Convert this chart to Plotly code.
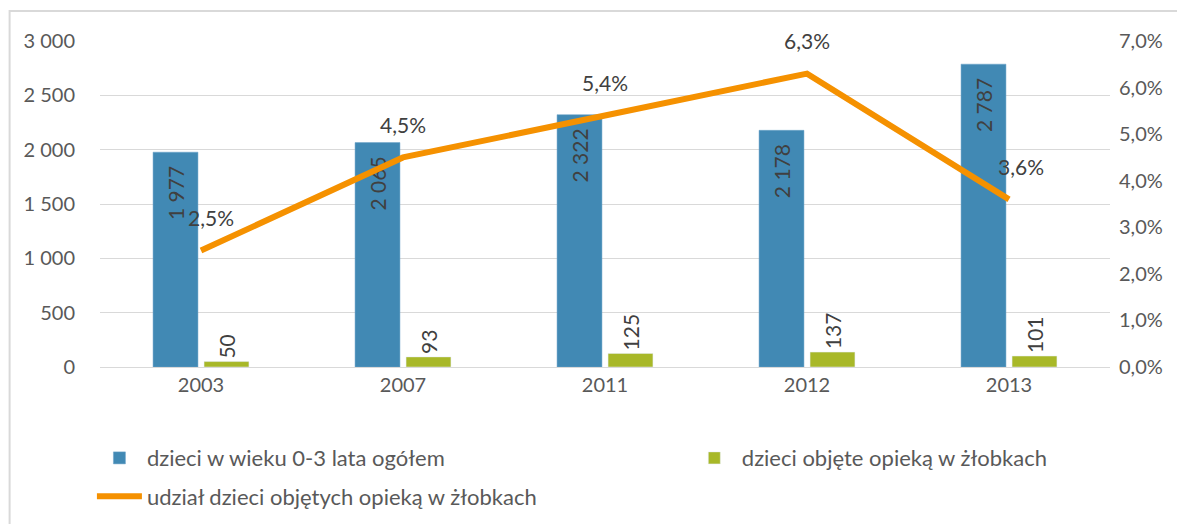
import plotly.graph_objects as go

years = ["2003", "2007", "2011", "2012", "2013"]
dzieci_ogolem = [1977, 2065, 2322, 2178, 2787]
dzieci_zlobki = [50, 93, 125, 137, 101]
udzial = [0.025, 0.045, 0.054, 0.063, 0.036]

name_ogolem = "dzieci w wieku 0-3 lata ogółem"
name_zlobki = "dzieci objęte opieką w żłobkach"
name_udzial = "udział dzieci objętych opieką w żłobkach"

FONT = "Lato"
GRAY = "#595959"
LABEL = "#404040"
NBSP = "\u00a0"


def fmt_int(v):
    return f"{v:,}".replace(",", " ")


def fmt_pct(v):
    return f"{v * 100:.1f}%".replace(".", ",")


fig = go.Figure()
fig.add_trace(go.Bar(
    x=years, y=dzieci_ogolem, name=name_ogolem, legend="legend",
    marker=dict(color="#4189B4", line=dict(color="#6aa3c8", width=0.5)),
    # trailing nbsp pushes the label down from the bar top
    text=[fmt_int(v) + NBSP * 2 for v in dzieci_ogolem],
    textposition="inside", insidetextanchor="end", textangle=-90,
    insidetextfont=dict(family=FONT, size=21, color=LABEL),
))
fig.add_trace(go.Bar(
    x=years, y=dzieci_zlobki, name=name_zlobki, legend="legend3",
    marker=dict(color="#A8B828"),
    text=[fmt_int(v) for v in dzieci_zlobki],
    textposition="outside", textangle=-90,
    outsidetextfont=dict(family=FONT, size=21, color=LABEL),
))
fig.add_trace(go.Scatter(
    x=years, y=udzial, name=name_udzial, yaxis="y2", legend="legend2",
    mode="lines", line=dict(color="#F59100", width=6),
))

# percentage labels above the line points (x given as category index)
shifts = [10, 0, 0, 0, 12]
for i, (v, xs) in enumerate(zip(udzial, shifts)):
    fig.add_annotation(x=i, y=v, yref="y2", text=fmt_pct(v), showarrow=False,
                       yshift=33, xshift=xs,
                       font=dict(family=FONT, size=21, color=LABEL))

# outer chart border (only left/top visible in the crop)
fig.add_shape(type="rect", xref="paper", yref="paper",
              x0=-0.0895, y0=-1.0, x1=1.3, y1=1.092,
              line=dict(color="#d9d9d9", width=2), layer="below")

legend_common = dict(orientation="h", xanchor="left", yanchor="top",
                     itemwidth=45, bgcolor="rgba(0,0,0,0)",
                     font=dict(family=FONT, size=22, color=GRAY))

fig.update_layout(
    width=1185, height=524,
    # page body has an 8px margin, so the plot box is offset by that
    margin=dict(l=92, r=83, t=33, b=165, autoexpand=False),
    paper_bgcolor="white", plot_bgcolor="white",
    separators=", ",
    font=dict(family=FONT, size=20, color=GRAY),
    barmode="group", bargap=0.495, bargroupgap=0.12,
    xaxis=dict(type="category", range=[-0.5, 4.5], showline=True,
               linecolor="#d9d9d9", linewidth=1,
               ticks="", tickfont=dict(size=20, color=GRAY)),
    yaxis=dict(range=[0, 3000], dtick=500, tickformat=",d",
               gridcolor="#d9d9d9", gridwidth=1, zeroline=False,
               ticks="outside", ticklen=20, tickcolor="white",
               tickfont=dict(size=20, color=GRAY)),
    yaxis2=dict(range=[0, 0.07], dtick=0.01, tickformat=".1%",
                overlaying="y", side="right", showgrid=False, zeroline=False,
                ticks="outside", ticklen=4, tickcolor="white",
                tickfont=dict(size=20, color=GRAY)),
    showlegend=True,
    legend=dict(x=-0.008, y=-0.215, **legend_common),
    legend3=dict(x=0.581, y=-0.215, **legend_common),
    legend2=dict(x=-0.008, y=-0.333, **legend_common),
)

fig.write_html("out.html")
